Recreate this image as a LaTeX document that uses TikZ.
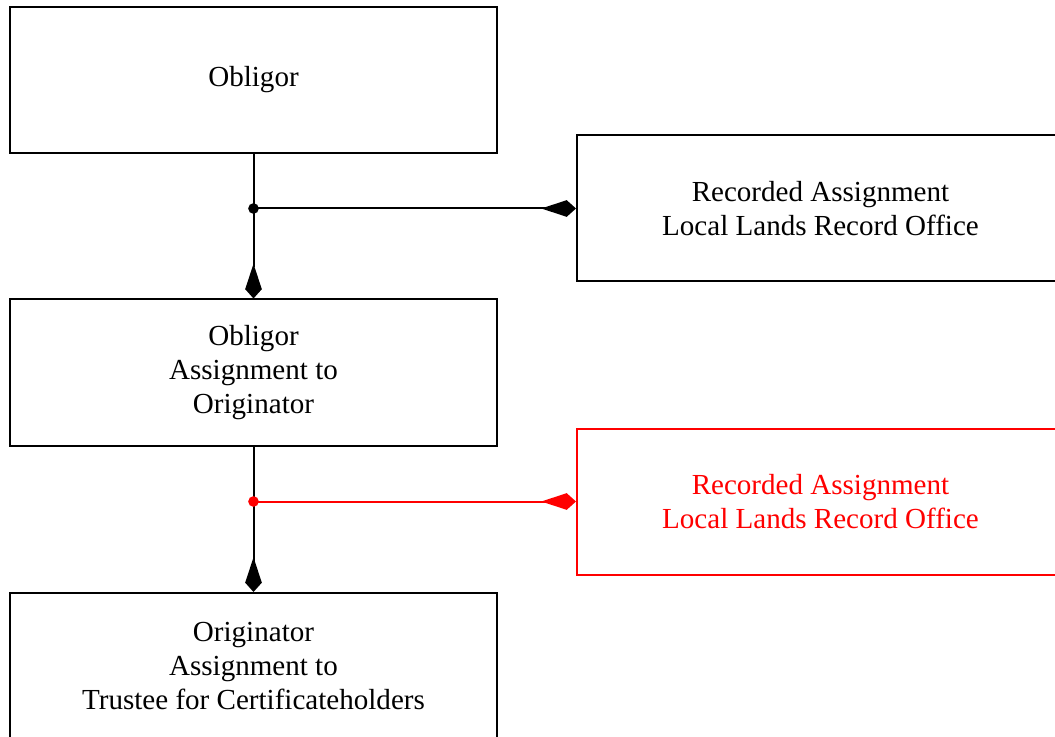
\documentclass[tikz,border=0pt]{standalone}
\usepackage{fontspec}
\setmainfont{Liberation Serif}
\usetikzlibrary{arrows.meta}
\begin{document}
\begin{tikzpicture}[x=0.75pt,y=-0.75pt,
  box/.style={draw,line width=1.5pt,minimum width=487*0.75pt,minimum height=146*0.75pt,
    inner sep=0pt,align=center,font=\fontsize{21.8}{25.5}\selectfont},
  conn/.style={line width=1.5pt,-{Kite[length=26pt,width=12.5pt,inset=19pt]}},
  dot/.style={circle,fill,inner sep=0pt,minimum size=8pt}]
\useasboundingbox (0,0) rectangle (1055,737);
\node[box] (ob) at (253.5,80) {Obligor};
\node[box] (r1) at (820.5,208.5) {Recorded Assignment\\Local Lands Record Office};
\node[box] (oa) at (253.5,372.5) {Obligor\\Assignment to\\Originator};
\node[box,red] (r2) at (820.5,501.5) {Recorded Assignment\\Local Lands Record Office};
\node[box] (or) at (253.5,666) {Originator\\Assignment to\\Trustee for Certificateholders};
\coordinate (d1) at (ob.south |- r1.west);
\coordinate (d2) at (oa.south |- r2.west);
\draw[conn] (ob.south) -- (oa.north);
\draw[conn] (d1) -- (r1.west);
\node[dot] at (d1) {};
\draw[conn] (oa.south) -- (or.north);
\draw[conn,red] (d2) -- (r2.west);
\node[dot,red] at (d2) {};
\end{tikzpicture}
\end{document}
